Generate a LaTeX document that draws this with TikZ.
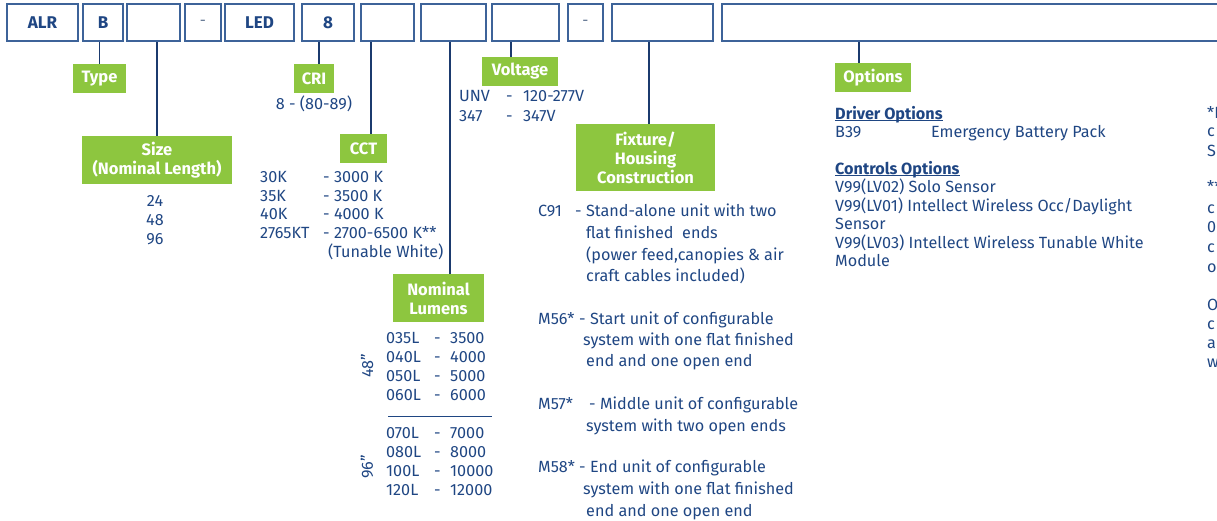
\documentclass[tikz,border=0pt]{standalone}
\usepackage{fontspec}
\setmainfont{Fira Sans}
\usetikzlibrary{calc}
\definecolor{txt}{HTML}{1F4683}
\definecolor{boxc}{HTML}{3D6399}
\definecolor{lnc}{HTML}{1B3A6E}
\definecolor{grn}{HTML}{8DC63F}
\definecolor{dashc}{HTML}{5A6E8C}
\begin{document}
\begin{tikzpicture}[x=1pt,y=-1pt,
 topbox/.style={draw=boxc,line width=1.6pt,minimum height=37pt,inner sep=0pt,font=\fontsize{17}{20}\selectfont\bfseries,text=txt},
 gbox/.style={fill=grn,inner sep=0pt,text=white,font=\fontsize{16.5}{19}\selectfont\bfseries,align=center},
 lbl/.style={anchor=mid west,inner sep=0pt,text=txt,font=\fontsize{16.2}{19}\selectfont,yshift=-3pt},
 clbl/.style={anchor=mid,inner sep=0pt,text=txt,font=\fontsize{16.2}{19}\selectfont,yshift=-3pt},
 rlbl/.style={anchor=center,inner sep=0pt,text=txt,font=\fontsize{16.2}{19}\selectfont,rotate=90},
 conn/.style={draw=lnc,line width=1.3pt}]
\useasboundingbox (0,0) rectangle (1217,521);
% top row
\node[topbox,minimum width=71pt] (alr) at (42.5,22.5) {ALR};
\node[topbox,minimum width=40pt] (b) at (103,22.5) {B};
\node[topbox,minimum width=53pt] (size) at (153.5,22.5) {};
\node[topbox,minimum width=36pt,font=\fontsize{15}{18}\selectfont,text=dashc] (d1) at (203,22.5) {-};
\node[topbox,minimum width=69pt] (led) at (259.5,22.5) {LED};
\node[topbox,minimum width=52pt] (cri) at (328,22.5) {8};
\node[topbox,minimum width=53pt] (cct) at (387.5,22.5) {};
\node[topbox,minimum width=65pt] (lum) at (453.5,22.5) {};
\node[topbox,minimum width=67pt] (volt) at (525.5,22.5) {};
\node[topbox,minimum width=35pt,font=\fontsize{15}{18}\selectfont,text=dashc] (d2) at (585.5,22.5) {-};
\node[topbox,minimum width=101pt] (fix) at (662.5,22.5) {};
\node[topbox,minimum width=520pt] (opt) at (982,22.5) {};
% green labels
\node[gbox,minimum width=53pt,minimum height=29pt] (gType) at (99.5,78.5) {Type};
\node[gbox,minimum width=150pt,minimum height=48pt] (gSize) at (157,160) {Size\\(Nominal Length)};
\node[gbox,minimum width=40pt,minimum height=29pt] (gCRI) at (314,78.5) {CRI};
\node[gbox,minimum width=47pt,minimum height=29pt] (gCCT) at (363.5,148.5) {CCT};
\node[gbox,minimum width=91pt,minimum height=48pt] (gLum) at (438.5,298) {Nominal\\Lumens};
\node[gbox,minimum width=76pt,minimum height=29pt] (gVolt) at (520,71.5) {Voltage};
\node[gbox,minimum width=139pt,minimum height=67pt] (gFix) at (645.5,157.5) {Fixture/\\Housing\\Construction};
\node[gbox,minimum width=76pt,minimum height=29pt] (gOpt) at (873,77.5) {Options};
% connectors
\draw[conn] (gType.north) -- (gType.north |- b.south);
\draw[conn] (gSize.north) -- (gSize.north |- size.south);
\draw[conn] ([xshift=5pt]gCRI.north) -- ([xshift=5pt]gCRI.north |- cri.south);
\draw[conn] ([xshift=7.5pt]gCCT.north) -- ([xshift=7.5pt]gCCT.north |- cct.south);
\draw[conn] ([xshift=11.5pt]gLum.north) -- ([xshift=11.5pt]gLum.north |- lum.south);
\draw[conn] ([xshift=-9pt]gVolt.north) -- ([xshift=-9pt]gVolt.north |- volt.south);
\draw[conn] ([xshift=3.5pt]gFix.north) -- ([xshift=3.5pt]gFix.north |- fix.south);
\draw[conn] ([xshift=-14pt]gOpt.north) -- ([xshift=-14pt]gOpt.north |- opt.south);
% size values
\node[clbl] (s24) at (155,201) {24};
\node[clbl] (s48) at (155,220) {48};
\node[clbl] (s96) at (155,239) {96};
% CRI
\node[clbl] (cri8) at (314,104) {8 - (80-89)};
% CCT
\node[lbl] (c1a) at (260,177) {30K};   \node[lbl] (c1b) at (323,177) {- 3000 K};
\node[lbl] (c2a) at (260,195.5) {35K}; \node[lbl] (c2b) at (323,195.5) {- 3500 K};
\node[lbl] (c3a) at (260,214) {40K};   \node[lbl] (c3b) at (323,214) {- 4000 K};
\node[lbl] (c4a) at (260,233) {2765KT};\node[lbl] (c4b) at (323,233) {- 2700-6500 K**};
\node[lbl] (c5b) at (328,252) {(Tunable White)};
% voltage
\node[lbl] (v1a) at (459,96) {UNV}; \node[lbl] (v1b) at (506,96) {-}; \node[lbl] (v1c) at (523,96) {120-277V};
\node[lbl] (v2a) at (459,116) {347}; \node[lbl] (v2b) at (506,116) {-}; \node[lbl] (v2c) at (523,116) {347V};
% lumens
\foreach \c/\v/\y in {035L/3500/338,040L/4000/357,050L/5000/376,060L/6000/395,070L/7000/433,080L/8000/452,100L/10000/471,120L/12000/490}{
  \node[lbl] (l\c) at (386,\y) {\c};
  \node[lbl] (ld\c) at (434,\y) {-};
  \node[lbl] (lv\c) at (450,\y) {\v};
}
\draw[draw=txt,line width=1pt] (388,416) -- (492,416);
\node[rlbl] (r48) at (367,366) {48”};
\node[rlbl] (r96) at (367,467) {96”};
% fixture
\node[lbl] (f1) at (538,211) {C91};
\node[lbl] (f1a) at (575,211) {- Stand-alone unit with two};
\node[lbl] (f1b) at (586,233) {flat finished\ \ ends};
\node[lbl] (f1c) at (586,255) {(power feed,canopies \& air};
\node[lbl] (f1d) at (586,276) {craft cables included)};
\node[lbl] (f2) at (538,319) {M56*};
\node[lbl] (f2a) at (579,319) {- Start unit of configurable};
\node[lbl] (f2b) at (583,340) {system with one flat finished};
\node[lbl] (f2c) at (586,361) {end and one open end};
\node[lbl] (f3) at (538,404) {M57*};
\node[lbl] (f3a) at (589,404) {- Middle unit of configurable};
\node[lbl] (f3b) at (586,426) {system with two open ends};
\node[lbl] (f4) at (538,467) {M58*};
\node[lbl] (f4a) at (579,467) {- End unit of configurable};
\node[lbl] (f4b) at (583,489) {system with one flat finished};
\node[lbl] (f4c) at (586,511) {end and one open end};
% options
\node[lbl,font=\fontsize{16.2}{19}\selectfont\bfseries] (o1) at (835,114) {Driver Options};
\draw[draw=txt,line width=1pt] (835,121) -- (o1.east |- 0,121);
\node[lbl] (o2) at (835,132) {B39};
\node[lbl] (o2b) at (931,132) {Emergency Battery Pack};
\node[lbl,font=\fontsize{16.2}{19}\selectfont\bfseries] (o3) at (835,169) {Controls Options};
\draw[draw=txt,line width=1pt] (835,176) -- (o3.east |- 0,176);
\node[lbl] (o4) at (835,187) {V99(LV02) Solo Sensor};
\node[lbl] (o5) at (835,206) {V99(LV01) Intellect Wireless Occ/Daylight};
\node[lbl] (o6) at (835,224) {Sensor};
\node[lbl] (o7) at (835,243) {V99(LV03) Intellect Wireless Tunable White};
\node[lbl] (o8) at (835,261) {Module};
% clipped notes at right edge
\foreach \t/\y in {*P/113,c/131,S/151,**/187,c/208,0/227,c/247,o/267,O/305,c/324,a/343,w/362}{
  \node[lbl] at (1207,\y) {\t};
}
\end{tikzpicture}
\end{document}
